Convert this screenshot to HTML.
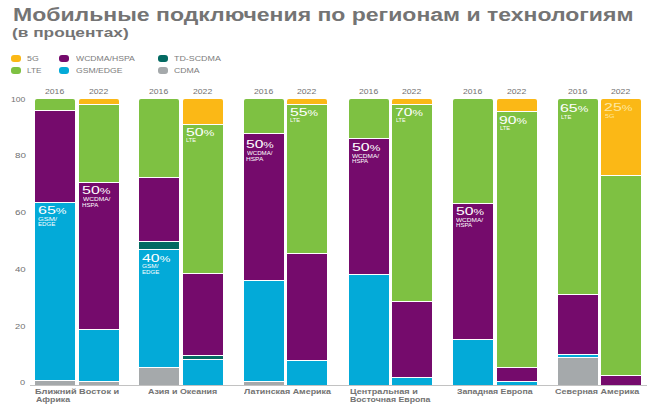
<!DOCTYPE html><html><head><meta charset="utf-8"><style>
html,body{margin:0;padding:0;background:#fff;width:650px;height:410px;overflow:hidden}
body{position:relative;font-family:"Liberation Sans",sans-serif}
.t{position:absolute;white-space:nowrap;transform-origin:0 0}
.s{position:absolute}
.b{font-weight:bold}
</style></head><body>

<div class="s" style="left:10.5px;top:55px;width:10px;height:7px;border-radius:3px;background:#fbb816"></div>
<div class="s" style="left:10.5px;top:67px;width:10px;height:7px;border-radius:3px;background:#7ec142"></div>
<div class="s" style="left:59px;top:55px;width:10px;height:7px;border-radius:3px;background:#750b6c"></div>
<div class="s" style="left:59px;top:67px;width:10px;height:7px;border-radius:3px;background:#03aad8"></div>
<div class="s" style="left:158px;top:55px;width:10px;height:7px;border-radius:3px;background:#036a62"></div>
<div class="s" style="left:158px;top:67px;width:10px;height:7px;border-radius:3px;background:#a5a9ab"></div>
<div class="s" style="left:35px;top:99px;width:40px;height:11px;background:#7ec142;border-radius:2px 2px 0 0;"></div>
<div class="s" style="left:35px;top:111px;width:40px;height:91px;background:#750b6c;"></div>
<div class="s" style="left:35px;top:203px;width:40px;height:177px;background:#03aad8;"></div>
<div class="s" style="left:35px;top:381px;width:40px;height:4px;background:#a5a9ab;"></div>
<div class="s" style="left:79px;top:99px;width:40px;height:5px;background:#fbb816;border-radius:2px 2px 0 0;"></div>
<div class="s" style="left:79px;top:105px;width:40px;height:77px;background:#7ec142;"></div>
<div class="s" style="left:79px;top:183px;width:40px;height:146px;background:#750b6c;"></div>
<div class="s" style="left:79px;top:330px;width:40px;height:51px;background:#03aad8;"></div>
<div class="s" style="left:79px;top:382px;width:40px;height:3px;background:#a5a9ab;"></div>
<div class="s" style="left:139px;top:99px;width:40px;height:78px;background:#7ec142;border-radius:2px 2px 0 0;"></div>
<div class="s" style="left:139px;top:178px;width:40px;height:63px;background:#750b6c;"></div>
<div class="s" style="left:139px;top:242px;width:40px;height:7px;background:#036a62;"></div>
<div class="s" style="left:139px;top:250px;width:40px;height:117px;background:#03aad8;"></div>
<div class="s" style="left:139px;top:368px;width:40px;height:17px;background:#a5a9ab;"></div>
<div class="s" style="left:183px;top:99px;width:40px;height:25px;background:#fbb816;border-radius:2px 2px 0 0;"></div>
<div class="s" style="left:183px;top:125px;width:40px;height:148px;background:#7ec142;"></div>
<div class="s" style="left:183px;top:274px;width:40px;height:81px;background:#750b6c;"></div>
<div class="s" style="left:183px;top:356px;width:40px;height:3px;background:#036a62;"></div>
<div class="s" style="left:183px;top:360px;width:40px;height:25px;background:#03aad8;"></div>
<div class="s" style="left:244px;top:99px;width:40px;height:34px;background:#7ec142;border-radius:2px 2px 0 0;"></div>
<div class="s" style="left:244px;top:134px;width:40px;height:146px;background:#750b6c;"></div>
<div class="s" style="left:244px;top:281px;width:40px;height:100px;background:#03aad8;"></div>
<div class="s" style="left:244px;top:382px;width:40px;height:3px;background:#a5a9ab;"></div>
<div class="s" style="left:287px;top:99px;width:40px;height:5px;background:#fbb816;border-radius:2px 2px 0 0;"></div>
<div class="s" style="left:287px;top:105px;width:40px;height:148px;background:#7ec142;"></div>
<div class="s" style="left:287px;top:254px;width:40px;height:106px;background:#750b6c;"></div>
<div class="s" style="left:287px;top:361px;width:40px;height:24px;background:#03aad8;"></div>
<div class="s" style="left:349px;top:99px;width:40px;height:39px;background:#7ec142;border-radius:2px 2px 0 0;"></div>
<div class="s" style="left:349px;top:139px;width:40px;height:135px;background:#750b6c;"></div>
<div class="s" style="left:349px;top:275px;width:40px;height:110px;background:#03aad8;"></div>
<div class="s" style="left:392px;top:99px;width:40px;height:5px;background:#fbb816;border-radius:2px 2px 0 0;"></div>
<div class="s" style="left:392px;top:105px;width:40px;height:196px;background:#7ec142;"></div>
<div class="s" style="left:392px;top:302px;width:40px;height:75px;background:#750b6c;"></div>
<div class="s" style="left:392px;top:378px;width:40px;height:7px;background:#03aad8;"></div>
<div class="s" style="left:453px;top:99px;width:40px;height:104px;background:#7ec142;border-radius:2px 2px 0 0;"></div>
<div class="s" style="left:453px;top:204px;width:40px;height:135px;background:#750b6c;"></div>
<div class="s" style="left:453px;top:340px;width:40px;height:45px;background:#03aad8;"></div>
<div class="s" style="left:496.5px;top:99px;width:40.0px;height:12px;background:#fbb816;border-radius:2px 2px 0 0;"></div>
<div class="s" style="left:496.5px;top:112px;width:40.0px;height:255px;background:#7ec142;"></div>
<div class="s" style="left:496.5px;top:368px;width:40.0px;height:13px;background:#750b6c;"></div>
<div class="s" style="left:496.5px;top:382px;width:40.0px;height:3px;background:#03aad8;"></div>
<div class="s" style="left:558px;top:99px;width:40px;height:195px;background:#7ec142;border-radius:2px 2px 0 0;"></div>
<div class="s" style="left:558px;top:295px;width:40px;height:59px;background:#750b6c;"></div>
<div class="s" style="left:558px;top:355px;width:40px;height:2px;background:#03aad8;"></div>
<div class="s" style="left:558px;top:358px;width:40px;height:27px;background:#a5a9ab;"></div>
<div class="s" style="left:601px;top:99px;width:40px;height:76px;background:#fbb816;border-radius:2px 2px 0 0;"></div>
<div class="s" style="left:601px;top:176px;width:40px;height:199px;background:#7ec142;"></div>
<div class="s" style="left:601px;top:376px;width:40px;height:9px;background:#750b6c;"></div>
<div class="s" style="left:30px;top:385px;width:617px;height:1px;background:#c2c2c2"></div>
<div class="t b" style="left:12.66px;top:7px;font-size:17.5px;line-height:17.5px;color:#747474;transform:scaleX(1.3144)">Мобильные подключения по регионам и технологиям</div>
<div class="t b" style="left:12.14px;top:27px;font-size:12.5px;line-height:12.5px;color:#747474;transform:scaleX(1.3810)">(в процентах)</div>
<div class="t" style="left:27.15px;top:55px;font-size:7.3px;line-height:7.3px;color:#7c7c7c;transform:scaleX(1.2022)">5G</div>
<div class="t" style="left:26.83px;top:67px;font-size:7.3px;line-height:7.3px;color:#7c7c7c;transform:scaleX(1.1222)">LTE</div>
<div class="t" style="left:76.16px;top:55px;font-size:7.3px;line-height:7.3px;color:#7c7c7c;transform:scaleX(1.1822)">WCDMA/HSPA</div>
<div class="t" style="left:75.77px;top:67px;font-size:7.3px;line-height:7.3px;color:#7c7c7c;transform:scaleX(1.1846)">GSM/EDGE</div>
<div class="t" style="left:174.20px;top:55px;font-size:7.3px;line-height:7.3px;color:#7c7c7c;transform:scaleX(1.2152)">TD-SCDMA</div>
<div class="t" style="left:173.96px;top:67px;font-size:7.3px;line-height:7.3px;color:#7c7c7c;transform:scaleX(1.1938)">CDMA</div>
<div class="t" style="left:11.14px;top:96px;font-size:7.0px;line-height:7.0px;color:#707070;transform:scaleX(1.2325)">100</div>
<div class="t" style="left:14.67px;top:152px;font-size:7.0px;line-height:7.0px;color:#707070;transform:scaleX(1.4011)">80</div>
<div class="t" style="left:14.60px;top:209px;font-size:7.0px;line-height:7.0px;color:#707070;transform:scaleX(1.4112)">60</div>
<div class="t" style="left:14.88px;top:266px;font-size:7.0px;line-height:7.0px;color:#707070;transform:scaleX(1.3738)">40</div>
<div class="t" style="left:15.23px;top:323px;font-size:7.0px;line-height:7.0px;color:#707070;transform:scaleX(1.3267)">20</div>
<div class="t" style="left:20.44px;top:379px;font-size:7.0px;line-height:7.0px;color:#707070;transform:scaleX(1.3149)">0</div>
<div class="t" style="left:45.07px;top:89px;font-size:6.7px;line-height:6.7px;color:#707070;transform:scaleX(1.2891)">2016</div>
<div class="t" style="left:89.06px;top:89px;font-size:6.7px;line-height:6.7px;color:#707070;transform:scaleX(1.2930)">2022</div>
<div class="t" style="left:149.07px;top:89px;font-size:6.7px;line-height:6.7px;color:#707070;transform:scaleX(1.2891)">2016</div>
<div class="t" style="left:193.06px;top:89px;font-size:6.7px;line-height:6.7px;color:#707070;transform:scaleX(1.2930)">2022</div>
<div class="t" style="left:254.07px;top:89px;font-size:6.7px;line-height:6.7px;color:#707070;transform:scaleX(1.2891)">2016</div>
<div class="t" style="left:297.06px;top:89px;font-size:6.7px;line-height:6.7px;color:#707070;transform:scaleX(1.2930)">2022</div>
<div class="t" style="left:359.07px;top:89px;font-size:6.7px;line-height:6.7px;color:#707070;transform:scaleX(1.2891)">2016</div>
<div class="t" style="left:402.06px;top:89px;font-size:6.7px;line-height:6.7px;color:#707070;transform:scaleX(1.2930)">2022</div>
<div class="t" style="left:463.07px;top:89px;font-size:6.7px;line-height:6.7px;color:#707070;transform:scaleX(1.2891)">2016</div>
<div class="t" style="left:506.56px;top:89px;font-size:6.7px;line-height:6.7px;color:#707070;transform:scaleX(1.2930)">2022</div>
<div class="t" style="left:568.07px;top:89px;font-size:6.7px;line-height:6.7px;color:#707070;transform:scaleX(1.2891)">2016</div>
<div class="t" style="left:611.06px;top:89px;font-size:6.7px;line-height:6.7px;color:#707070;transform:scaleX(1.2930)">2022</div>
<div class="t" style="left:37.99px;top:204px;font-size:11.6px;line-height:11.6px;color:#ffffff;transform:scaleX(1.3780)">65<span style="font-size:75%">%</span></div>
<div class="t" style="left:38.42px;top:217px;font-size:5.0px;line-height:5.0px;color:#ffffff;transform:scaleX(1.4928)">GSM/</div>
<div class="t" style="left:38.29px;top:222px;font-size:5.0px;line-height:5.0px;color:#ffffff;transform:scaleX(1.2329)">EDGE</div>
<div class="t" style="left:82.16px;top:184px;font-size:11.6px;line-height:11.6px;color:#ffffff;transform:scaleX(1.3794)">50<span style="font-size:75%">%</span></div>
<div class="t" style="left:82.77px;top:197px;font-size:5.0px;line-height:5.0px;color:#ffffff;transform:scaleX(1.3168)">WCDMA/</div>
<div class="t" style="left:82.30px;top:203px;font-size:5.0px;line-height:5.0px;color:#ffffff;transform:scaleX(1.2277)">HSPA</div>
<div class="t" style="left:142.44px;top:252px;font-size:11.6px;line-height:11.6px;color:#ffffff;transform:scaleX(1.3658)">40<span style="font-size:75%">%</span></div>
<div class="t" style="left:142.47px;top:264px;font-size:5.0px;line-height:5.0px;color:#ffffff;transform:scaleX(1.2932)">GSM/</div>
<div class="t" style="left:142.29px;top:270px;font-size:5.0px;line-height:5.0px;color:#ffffff;transform:scaleX(1.2329)">EDGE</div>
<div class="t" style="left:186.16px;top:126px;font-size:11.6px;line-height:11.6px;color:#ffffff;transform:scaleX(1.3693)">50<span style="font-size:75%">%</span></div>
<div class="t" style="left:186.33px;top:138px;font-size:5.0px;line-height:5.0px;color:#ffffff;transform:scaleX(1.1352)">LTE</div>
<div class="t" style="left:246.18px;top:138px;font-size:11.6px;line-height:11.6px;color:#ffffff;transform:scaleX(1.3441)">50<span style="font-size:75%">%</span></div>
<div class="t" style="left:246.77px;top:151px;font-size:5.0px;line-height:5.0px;color:#ffffff;transform:scaleX(1.2207)">WCDMA/</div>
<div class="t" style="left:246.27px;top:157px;font-size:5.0px;line-height:5.0px;color:#ffffff;transform:scaleX(1.3034)">HSPA</div>
<div class="t" style="left:290.17px;top:106px;font-size:11.6px;line-height:11.6px;color:#ffffff;transform:scaleX(1.3593)">55<span style="font-size:75%">%</span></div>
<div class="t" style="left:290.33px;top:118px;font-size:5.0px;line-height:5.0px;color:#ffffff;transform:scaleX(1.1352)">LTE</div>
<div class="t" style="left:351.86px;top:141px;font-size:11.6px;line-height:11.6px;color:#ffffff;transform:scaleX(1.3744)">50<span style="font-size:75%">%</span></div>
<div class="t" style="left:352.47px;top:154px;font-size:5.0px;line-height:5.0px;color:#ffffff;transform:scaleX(1.2976)">WCDMA/</div>
<div class="t" style="left:352.00px;top:159px;font-size:5.0px;line-height:5.0px;color:#ffffff;transform:scaleX(1.2125)">HSPA</div>
<div class="t" style="left:395.40px;top:106px;font-size:11.6px;line-height:11.6px;color:#ffffff;transform:scaleX(1.3480)">70<span style="font-size:75%">%</span></div>
<div class="t" style="left:395.75px;top:118px;font-size:5.0px;line-height:5.0px;color:#ffffff;transform:scaleX(1.0884)">LTE</div>
<div class="t" style="left:455.87px;top:205px;font-size:11.6px;line-height:11.6px;color:#ffffff;transform:scaleX(1.3593)">50<span style="font-size:75%">%</span></div>
<div class="t" style="left:456.47px;top:218px;font-size:5.0px;line-height:5.0px;color:#ffffff;transform:scaleX(1.2976)">WCDMA/</div>
<div class="t" style="left:456.00px;top:223px;font-size:5.0px;line-height:5.0px;color:#ffffff;transform:scaleX(1.2125)">HSPA</div>
<div class="t" style="left:499.46px;top:114px;font-size:11.6px;line-height:11.6px;color:#ffffff;transform:scaleX(1.3546)">90<span style="font-size:75%">%</span></div>
<div class="t" style="left:499.73px;top:126px;font-size:5.0px;line-height:5.0px;color:#ffffff;transform:scaleX(1.1469)">LTE</div>
<div class="t" style="left:560.19px;top:102px;font-size:11.6px;line-height:11.6px;color:#ffffff;transform:scaleX(1.3678)">65<span style="font-size:75%">%</span></div>
<div class="t" style="left:560.52px;top:115px;font-size:5.0px;line-height:5.0px;color:#ffffff;transform:scaleX(1.1703)">LTE</div>
<div class="t" style="left:604.00px;top:101px;font-size:11.6px;line-height:11.6px;color:#fde7a0;transform:scaleX(1.3776)">25<span style="font-size:75%">%</span></div>
<div class="t" style="left:604.51px;top:114px;font-size:5.0px;line-height:5.0px;color:#fde7a0;transform:scaleX(1.4271)">5G</div>
<div class="t b" style="left:35.38px;top:388px;font-size:7.5px;line-height:7.5px;color:#737373;transform:scaleX(1.2277)">Ближний Восток и</div>
<div class="t b" style="left:35.78px;top:396px;font-size:7.5px;line-height:7.5px;color:#737373;transform:scaleX(1.1742)">Африка</div>
<div class="t b" style="left:147.78px;top:388px;font-size:7.5px;line-height:7.5px;color:#737373;transform:scaleX(1.1866)">Азия и Океания</div>
<div class="t b" style="left:243.57px;top:388px;font-size:7.5px;line-height:7.5px;color:#737373;transform:scaleX(1.1878)">Латинская Америка</div>
<div class="t b" style="left:350.39px;top:388px;font-size:7.5px;line-height:7.5px;color:#737373;transform:scaleX(1.2132)">Центральная и</div>
<div class="t b" style="left:350.42px;top:396px;font-size:7.5px;line-height:7.5px;color:#737373;transform:scaleX(1.1659)">Восточная Европа</div>
<div class="t b" style="left:456.80px;top:388px;font-size:7.5px;line-height:7.5px;color:#737373;transform:scaleX(1.1627)">Западная Европа</div>
<div class="t b" style="left:554.63px;top:388px;font-size:7.5px;line-height:7.5px;color:#737373;transform:scaleX(1.1982)">Северная Америка</div>
</body></html>
